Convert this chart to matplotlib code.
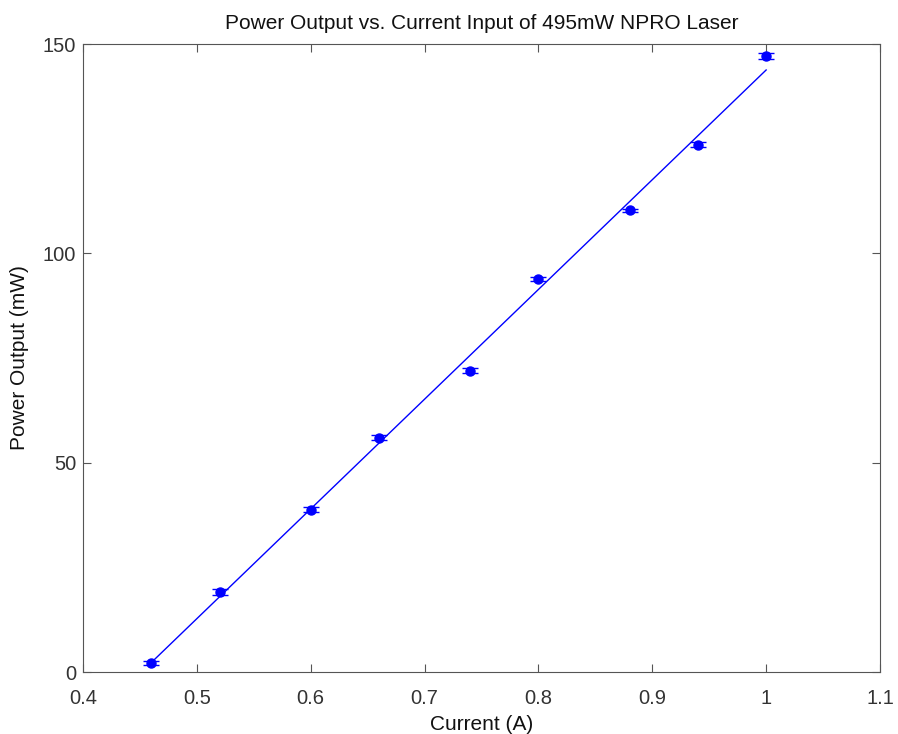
import numpy as np
import matplotlib.pyplot as plt

plt.rcParams['font.family'] = ['Liberation Sans', 'DejaVu Sans']

current = [0.46, 0.52, 0.60, 0.66, 0.74, 0.80, 0.88, 0.94, 1.00]
power = [2.2, 19.1, 38.7, 55.9, 72.0, 93.9, 110.3, 125.9, 147.1]
power_err = [0.5, 0.8, 0.6, 0.6, 0.6, 0.5, 0.4, 0.6, 0.7]

slope, intercept = np.polyfit(current, power, 1)
fit_x = np.array([current[0], current[-1]])
fit_y = slope * fit_x + intercept

fig = plt.figure(figsize=(8.98, 7.34), dpi=100)
ax = fig.add_axes([83 / 898, 1 - 672 / 734, (880 - 83) / 898, (672 - 44) / 734])

ax.errorbar(current, power, yerr=power_err, fmt='o', color='#0000ff',
            markersize=6.5, capsize=6, elinewidth=1, capthick=1)
ax.plot(fit_x, fit_y, color='#0000ff', linewidth=1)

ax.set_xlim(0.4, 1.1)
ax.set_ylim(0, 150)
ax.set_xticks([0.4, 0.5, 0.6, 0.7, 0.8, 0.9, 1.0, 1.1])
ax.set_xticklabels(['0.4', '0.5', '0.6', '0.7', '0.8', '0.9', '1', '1.1'])
ax.set_yticks([0, 50, 100, 150])

for s in ax.spines.values():
    s.set_color('#555555')
ax.tick_params(direction='in', top=True, right=True, length=6, color='#555555',
               labelsize=14.5, labelcolor='#333333')
ax.tick_params(axis='x', pad=12)
ax.tick_params(axis='y', pad=5)

ax.set_title('Power Output vs. Current Input of 495mW NPRO Laser', fontsize=15, pad=11,
             color='#111111')
ax.set_xlabel('Current (A)', fontsize=15, labelpad=5, color='#111111')
ax.set_ylabel('Power Output (mW)', fontsize=15, labelpad=10, color='#111111')

fig.savefig('out.png', dpi=100)
